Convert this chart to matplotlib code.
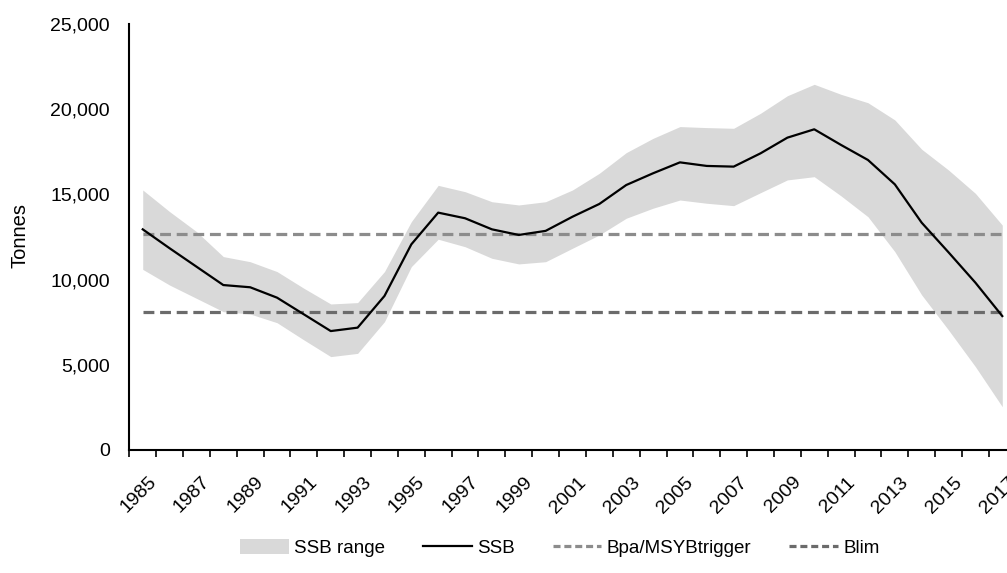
import numpy as np
import matplotlib
matplotlib.use("Agg")
import matplotlib.pyplot as plt
import matplotlib.transforms as mtrans
from matplotlib.patches import Patch
from matplotlib.lines import Line2D
from matplotlib.ticker import FuncFormatter

years = list(range(1985, 2018))
ssb = [12950, 11840, 10760, 9680, 9550, 8940, 7960, 6980, 7180, 9040,
       12070, 13930, 13600, 12950, 12620, 12860, 13690, 14440, 15550, 16240,
       16880, 16670, 16630, 17410, 18330, 18820, 17900, 17020, 15590, 13340,
       11600, 9820, 7860]
ssb_high = [15260, 13990, 12820, 11350, 11050, 10470, 9490, 8570, 8650, 10470,
            13400, 15530, 15160, 14570, 14380, 14570, 15260, 16240, 17450, 18290,
            18980, 18920, 18880, 19760, 20790, 21460, 20870, 20380, 19370, 17650,
            16430, 15060, 13200]
ssb_low = [10600, 9680, 8900, 8120, 7980, 7470, 6460, 5480, 5670, 7530,
           10760, 12370, 11930, 11250, 10920, 11050, 11840, 12620, 13600, 14190,
           14670, 14480, 14340, 15100, 15850, 16040, 14910, 13690, 11640, 9100,
           7040, 4890, 2540]
bpa = 12700
blim = 8100
y_ticks = [0, 5000, 10000, 15000, 20000, 25000]

plt.rcParams['font.family'] = ['Liberation Sans', 'DejaVu Sans']
FS = 14
FS_LEG = 13.5

fig = plt.figure(figsize=(10.07, 5.73), dpi=100)
ax = fig.add_axes([129.3 / 1007, 1 - 450 / 573, (1015.7 - 129.3) / 1007, (450 - 24) / 573])

x = np.arange(len(years))
ax.fill_between(x, ssb_low, ssb_high, color='#d9d9d9', linewidth=0, zorder=1)
ax.plot(x, np.full(len(x), bpa), color='#8c8c8c', lw=2.3, dashes=(3.4, 1.8), zorder=2)
ax.plot(x, np.full(len(x), blim), color='#6b6b6b', lw=2.3, dashes=(3.4, 1.8), zorder=2)
ax.plot(x, ssb, color='black', lw=1.6, zorder=3)

ax.set_xlim(-0.5, len(years) - 0.5)
ax.set_ylim(y_ticks[0], y_ticks[-1])
ax.set_yticks(y_ticks)
ax.yaxis.set_major_formatter(FuncFormatter(lambda v, p: f"{int(v):,}"))
ax.tick_params(axis='y', length=0, pad=14, labelsize=FS)

ax.set_xticks(x[::2])
ax.set_xticklabels([str(y) for y in years[::2]], rotation=45, ha='right',
                   va='top', rotation_mode='anchor', fontsize=FS)
ax.tick_params(axis='x', which='major', length=0, pad=17)
offset = mtrans.ScaledTranslation(5 / 100, 0, fig.dpi_scale_trans)
for lab in ax.get_xticklabels():
    lab.set_transform(lab.get_transform() + offset)
ax.set_xticks(np.arange(-0.5, len(years), 1), minor=True)
ax.tick_params(axis='x', which='minor', length=5, width=1.2, direction='out')

for s in ['top', 'right']:
    ax.spines[s].set_visible(False)
for s in ['left', 'bottom']:
    ax.spines[s].set_linewidth(1.5)
    ax.spines[s].set_color('black')

fig.text(20 / 1007, 1 - 235 / 573, 'Tonnes', rotation=90, ha='center', va='center', fontsize=14.5)

handles = [Patch(facecolor='#d9d9d9', edgecolor='none'),
           Line2D([], [], color='black', lw=1.6),
           Line2D([], [], color='#8c8c8c', lw=2.3, dashes=(2.2, 1.2)),
           Line2D([], [], color='#6b6b6b', lw=2.3, dashes=(2.2, 1.2))]
labels = ['SSB range', 'SSB', 'Bpa/MSYBtrigger', 'Blim']
fig.legend(handles, labels, loc='center', bbox_to_anchor=(560 / 1007, 1 - 548 / 573),
           ncol=4, frameon=False, fontsize=FS_LEG, handlelength=2.6, handletextpad=0.3,
           columnspacing=2.0, handleheight=0.9)

fig.savefig('out.png', dpi=100)
